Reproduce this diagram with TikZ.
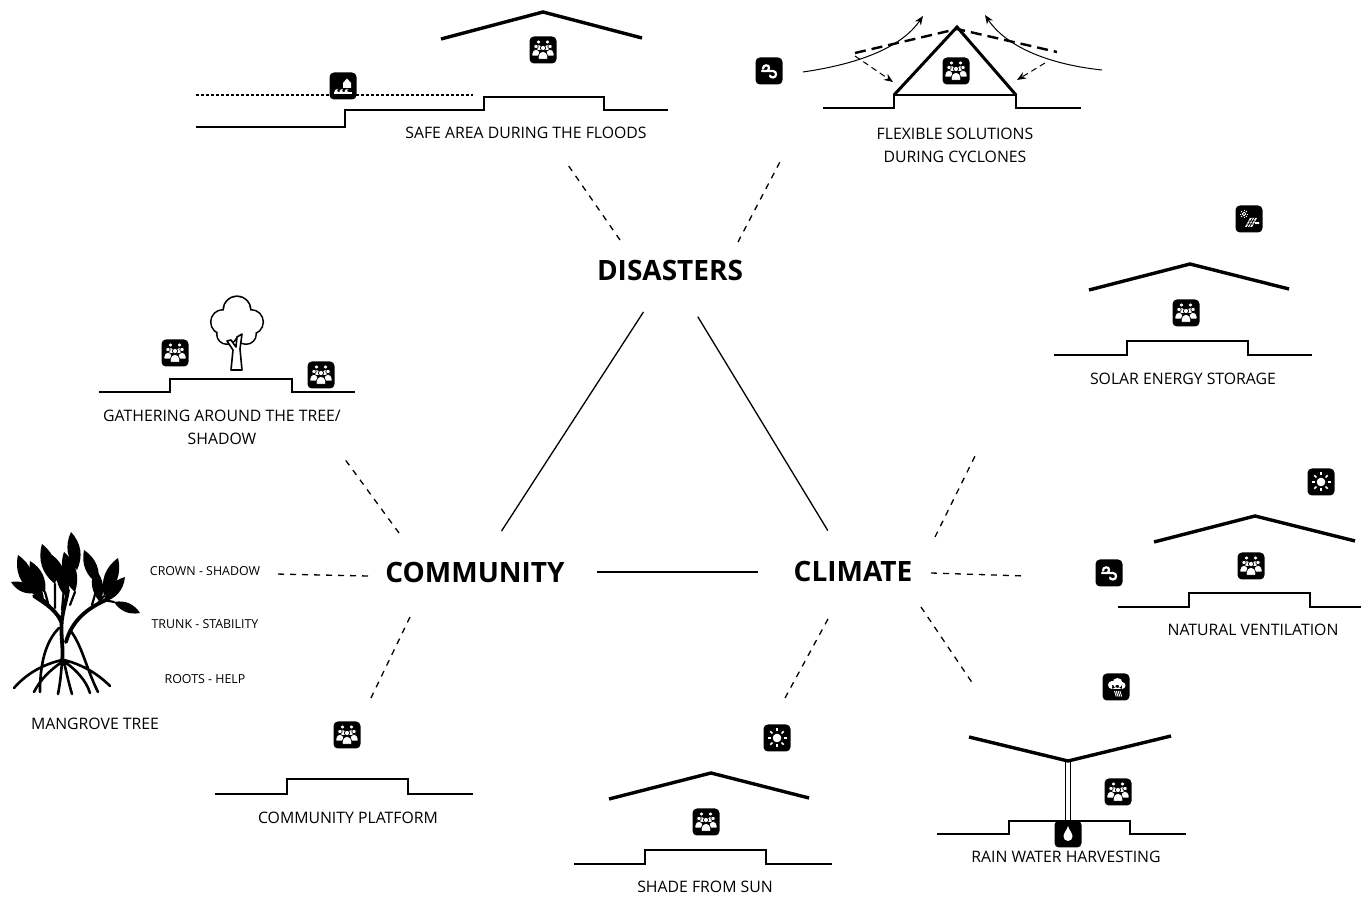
\documentclass[tikz,border=0pt]{standalone}
\usepackage{fontspec}
\setmainfont{Open Sans}
\usetikzlibrary{arrows.meta,calc}

\begin{document}
\begin{tikzpicture}[x=0.5pt,y=-0.5pt,>={Stealth[length=4.5pt,width=3.6pt]},
  hub/.style={font=\fontsize{14}{17}\selectfont\bfseries,inner sep=0pt},
  lbl/.style={font=\fontsize{7.9}{11.5}\selectfont,align=center,inner sep=0pt},
  tag/.style={font=\fontsize{6.2}{7.5}\selectfont,inner sep=0pt},
  icon/.style={fill=black,rounded corners=2.2pt,minimum size=13.5pt,inner sep=0pt},
  ground/.style={line width=1pt},
  roof/.style={line width=1.7pt},
  link/.style={line width=0.65pt},
  spoke/.style={line width=0.65pt,dash pattern=on 3pt off 3pt},
  ppl/.pic={
    \foreach \x/\y/\r in {-4.5/-8/2,4.5/-8/2,-7/-3.5/2.2,7/-3.5/2.2,0/-2/2.6}
      \filldraw[fill=white,draw=black,line width=0.35pt] (\x,\y) circle[radius=\r]
        (\x-1.8*\r,\y+4.3*\r) -- (\x-1.8*\r,\y+3.1*\r)
        arc[start angle=180,end angle=360,radius=1.8*\r] -- (\x+1.8*\r,\y+4.3*\r) -- cycle;
  },
  sun/.pic={
    \fill[white] (0,0) circle[radius=4.3];
    \foreach \a in {0,45,...,315} \draw[white,line width=0.8pt] (\a:6.5) -- (\a:9.5);
  },
  wind/.pic={
    \draw[white,line width=1.1pt,line cap=round]
      (-7,0) -- (4,0) .. controls (8,0) and (8,6.5) .. (4,6.5) .. controls (2,6.5) and (1,5.5) .. (1,4.5)
      (-6,-2.5) .. controls (-6,-6.5) and (0,-6.5) .. (0,-3.5) .. controls (0,-1.2) and (-1,0) .. (-2.5,0);
  },
  solar/.pic={
    \draw[white,line width=0.4pt] (-5,-5) circle[radius=1.8];
    \foreach \a in {0,45,...,315} \draw[white,line width=0.4pt] (-5,-5) ++(\a:2.8) -- ++(\a:1.3);
    \fill[white] (-4,8) -- (1,-1) -- (8,-1) -- (3,8) -- cycle;
    \draw[black,line width=0.35pt] (-2.33,5) -- (4.67,5) (-0.67,2) -- (6.33,2)
      (-1.67,8) -- (3.33,-1) (0.67,8) -- (5.67,-1);
    \draw[white,line width=0.6pt] (6,4) -- (9,4);
    \fill[white] (9.5,4) circle[radius=1.2];
  },
  rain/.pic={
    \fill[white] (-4,-2) circle[radius=4] (1.5,-4) circle[radius=5] (6,-1.5) circle[radius=3.5]
      (-4,-2) rectangle (6,2);
    \foreach \i in {0,1,2,3} \draw[white,line width=0.45pt] (-1.5+1.8*\i,4) -- (0.3+1.8*\i,9.5);
  },
  drop/.pic={
    \fill[white] (0,-8) .. controls (1,-4) and (4.5,-1) .. (4.5,2.5) .. controls (4.5,5) and (2.5,7) .. (0,7)
      .. controls (-2.5,7) and (-4.5,5) .. (-4.5,2.5) .. controls (-4.5,-1) and (-1,-4) .. cycle;
  },
  flood/.pic={
    \fill[white] (0,2) -- (0,-3) -- (4,-7.5) -- (8,-3) -- (8,2) -- cycle;
    \foreach \s in {-9,-4,1}
      \filldraw[fill=white,draw=black,line width=0.3pt] (\s,7) .. controls (\s,3.5) and (\s+2,2) .. (\s+4.5,2.5)
        .. controls (\s+3,3.5) and (\s+3.5,5.5) .. (\s+5,7) -- cycle;
    \fill[white] (-9,6.5) rectangle (9,8);
  }]
  \useasboundingbox (0,0) rectangle (1361,897);

  % ---- hubs ----
  \node[hub] (dis) at (670,271) {DISASTERS};
  \node[hub] (com) at (475,572) {COMMUNITY};
  \node[hub] (cli) at (853,572) {CLIMATE};
  \draw[link,shorten <=18pt,shorten >=18pt] (dis) -- (com);
  \draw[link,shorten <=20.5pt,shorten >=18pt] (dis) -- (cli);
  \draw[link,shorten <=16pt,shorten >=17.5pt] (com) -- (cli);

  % ---- spokes ----
  \coordinate (flS) at (568,165);
  \coordinate (cyS) at (782,158);
  \coordinate (gaS) at (344,458);
  \coordinate (mgS) at (275,574);
  \coordinate (plS) at (370,700);
  \coordinate (soS) at (977,452);
  \coordinate (veS) at (1025,576);
  \coordinate (rwS) at (973,684);
  \coordinate (shS) at (785,698);
  \draw[spoke] (dis) ++(-50,-31) -- (flS);
  \draw[spoke] (dis) ++(68,-29) -- (cyS);
  \draw[spoke] (com) ++(-76,-39) -- (gaS);
  \draw[spoke] (com) ++(-107,4) -- (mgS);
  \draw[spoke] (com) ++(-65,45) -- (plS);
  \draw[spoke] (cli) ++(82,-35) -- (soS);
  \draw[spoke] (cli) ++(78,1) -- (veS);
  \draw[spoke] (cli) ++(68,35) -- (rwS);
  \draw[spoke] (cli) ++(-25,47) -- (shS);

  % ---- safe area during the floods ----
  \draw[line width=0.6pt,dash pattern=on 1.5pt off 1pt] (196,95) -- (473,95);
  \draw[ground] (196,127) -- (345,127) -- (345,110) -- (484,110) -- (484,97) -- (604,97) -- (604,110) -- (668,110);
  \draw[roof] (441,39) -- (543,12) -- (642,38);
  \node[icon] (icFlood) at (343,86) {}; \pic at (icFlood) {flood};
  \node[icon] (pFlood) at (543,50) {}; \pic at (pFlood) {ppl};
  \node[lbl] (flLbl) at (526,133) {SAFE AREA DURING THE FLOODS};

  % ---- flexible solutions during cyclones ----
  \node[icon] (icWind1) at (769,71) {}; \pic at (icWind1) {wind};
  \draw[ground] (823,108) -- (894,108) -- (894,95) -- (1016,95) -- (1016,108) -- (1081,108);
  \draw[line width=1.5pt,line join=miter] (894,95) -- (957,27) -- (1016,95);
  \draw[line width=1.2pt,dash pattern=on 5.5pt off 3pt] (855,53) -- (957,29) -- (1057,52);
  \coordinate (wl0) at (803,72);  \coordinate (wl1) at (923,16);
  \coordinate (wr0) at (1102,70); \coordinate (wr1) at (985,15);
  \draw[line width=0.5pt,->] (wl0) .. controls (865,63) and (903,45) .. (wl1);
  \draw[line width=0.5pt,->] (wr0) .. controls (1045,64) and (1005,45) .. (wr1);
  \coordinate (dl0) at (855,56);  \coordinate (dl1) at (893,82);
  \coordinate (dr0) at (1045,63); \coordinate (dr1) at (1017,80);
  \draw[line width=0.5pt,dash pattern=on 3pt off 2pt,->] (dl0) -- (dl1);
  \draw[line width=0.5pt,dash pattern=on 3pt off 2pt,->] (dr0) -- (dr1);
  \node[icon] (pCyc) at (956,71) {}; \pic at (pCyc) {ppl};
  \node[lbl] (cyLbl) at (955,145) {FLEXIBLE SOLUTIONS\\DURING CYCLONES};

  % ---- solar energy storage ----
  \node[icon] (icSolar) at (1249,219) {}; \pic at (icSolar) {solar};
  \draw[roof] (1089,290) -- (1190,264) -- (1289,289);
  \node[icon] (pSolar) at (1186,313) {}; \pic at (pSolar) {ppl};
  \draw[ground] (1054,355) -- (1127,355) -- (1127,341) -- (1248,341) -- (1248,355) -- (1312,355);
  \node[lbl] (soLbl) at (1183,379) {SOLAR ENERGY STORAGE};

  % ---- natural ventilation ----
  \node[icon] (icSun1) at (1321,482) {}; \pic at (icSun1) {sun};
  \node[icon] (icWind2) at (1109,573) {}; \pic at (icWind2) {wind};
  \draw[roof] (1154,542) -- (1255,516) -- (1355,541);
  \node[icon] (pVent) at (1251,566) {}; \pic at (pVent) {ppl};
  \draw[ground] (1118,607) -- (1189,607) -- (1189,593) -- (1310,593) -- (1310,607) -- (1361,607);
  \node[lbl] (veLbl) at (1253,630) {NATURAL VENTILATION};

  % ---- rain water harvesting ----
  \node[icon] (icRain) at (1116,687) {}; \pic at (icRain) {rain};
  \draw[roof,line join=miter] (969,737) -- (1068,761) -- (1171,736);
  \draw[line width=0.6pt] (1065.5,762) -- (1065.5,822) (1070.5,762) -- (1070.5,822);
  \node[icon] (pRain) at (1118,792) {}; \pic at (pRain) {ppl};
  \draw[ground] (937,834) -- (1009,834) -- (1009,821) -- (1130,821) -- (1130,834) -- (1186,834);
  \node[icon] (icDrop) at (1068,834) {}; \pic at (icDrop) {drop};
  \node[lbl] (rwLbl) at (1066,857) {RAIN WATER HARVESTING};

  % ---- shade from sun ----
  \node[icon] (icSun2) at (777,738) {}; \pic at (icSun2) {sun};
  \draw[roof] (609,799) -- (711,773) -- (809,798);
  \node[icon] (pShade) at (706,822) {}; \pic at (pShade) {ppl};
  \draw[ground] (574,864) -- (645,864) -- (645,850) -- (766,850) -- (766,864) -- (832,864);
  \node[lbl] (shLbl) at (705,887) {SHADE FROM SUN};

  % ---- community platform ----
  \node[icon] (pPlat) at (347,735) {}; \pic at (pPlat) {ppl};
  \draw[ground] (215,794) -- (287,794) -- (287,779) -- (408,779) -- (408,794) -- (473,794);
  \node[lbl] (plLbl) at (348,818) {COMMUNITY PLATFORM};

  % ---- gathering around the tree ----
  \foreach \x/\y/\r in {237/310/13,223/322/11.5,251/322/11.5,227/334/9.5,246/334/9.5,237/325/13}
    \fill (\x,\y) circle[radius=\r+1.6];
  \foreach \x/\y/\r in {237/310/13,223/322/11.5,251/322/11.5,227/334/9.5,246/334/9.5,237/325/13}
    \fill[white] (\x,\y) circle[radius=\r];
  \filldraw[fill=white,line width=0.8pt,line join=round] (231,370) -- (233,350) -- (227,341) -- (231,340)
    -- (236,347) -- (237,337) -- (242,334) -- (240,349) -- (242,370) -- cycle;
  \draw[ground] (99,392) -- (170,392) -- (170,379) -- (292,379) -- (292,392) -- (355,392);
  \node[icon] (pGath1) at (175,353) {}; \pic at (pGath1) {ppl};
  \node[icon] (pGath2) at (321,375) {}; \pic at (pGath2) {ppl};
  \node[lbl] (gaLbl) at (222,427) {GATHERING AROUND THE TREE/\\SHADOW};

  % ---- mangrove tree ----
  \foreach \xa/\ya/\xb/\yb in {11/582/36/593,18/555/33/593,30/561/45/593,42/544/55/584,52/555/64/588,
      71/532/77/570,64/552/75/592,84/550/98/584,95/569/100/602,118/558/104/596,125/577/104/602,
      140/613/114/602,58/568/68/598,24/574/44/600}
    \fill (\xa,\ya) to[bend left=34] (\xb,\yb) to[bend left=34] (\xa,\ya);
  \draw[line width=1.9pt,line cap=round]
    (34,596) .. controls (48,605) and (58,612) .. (62,624)
    (106,600) .. controls (88,608) and (72,620) .. (66,642)
    (62,618) .. controls (60,635) and (64,648) .. (62,662)
    (68,590) .. controls (66,602) and (63,610) .. (62,620);
  \draw[line width=1.1pt,line cap=round] (45,592) -- (48,603) (55,584) -- (55,608) (98,584) -- (92,605)
    (75,592) -- (70,605) (104,596) -- (98,603) (114,602) -- (104,600) (64,588) -- (62,610) (44,600) -- (50,606);
  \draw[line width=1.3pt,line cap=round]
    (62,660) .. controls (45,664) and (28,672) .. (14,688)
    (62,662) .. controls (50,670) and (40,680) .. (34,692)
    (62,662) .. controls (61,675) and (60,684) .. (58,694)
    (64,660) .. controls (80,664) and (96,672) .. (110,686)
    (65,662) .. controls (76,670) and (86,680) .. (90,693)
    (64,662) .. controls (67,675) and (69,684) .. (72,694)
    (59,628) .. controls (45,642) and (40,665) .. (40,692)
    (70,630) .. controls (82,645) and (86,668) .. (98,692);
  \node[tag] (crown) at (205,571) {CROWN - SHADOW};
  \node[tag] (trunk) at (205,624) {TRUNK - STABILITY};
  \node[tag] (roots) at (205,679) {ROOTS - HELP};
  \node[lbl] (mgLbl) at (95,724) {MANGROVE TREE};
\end{tikzpicture}
\end{document}
